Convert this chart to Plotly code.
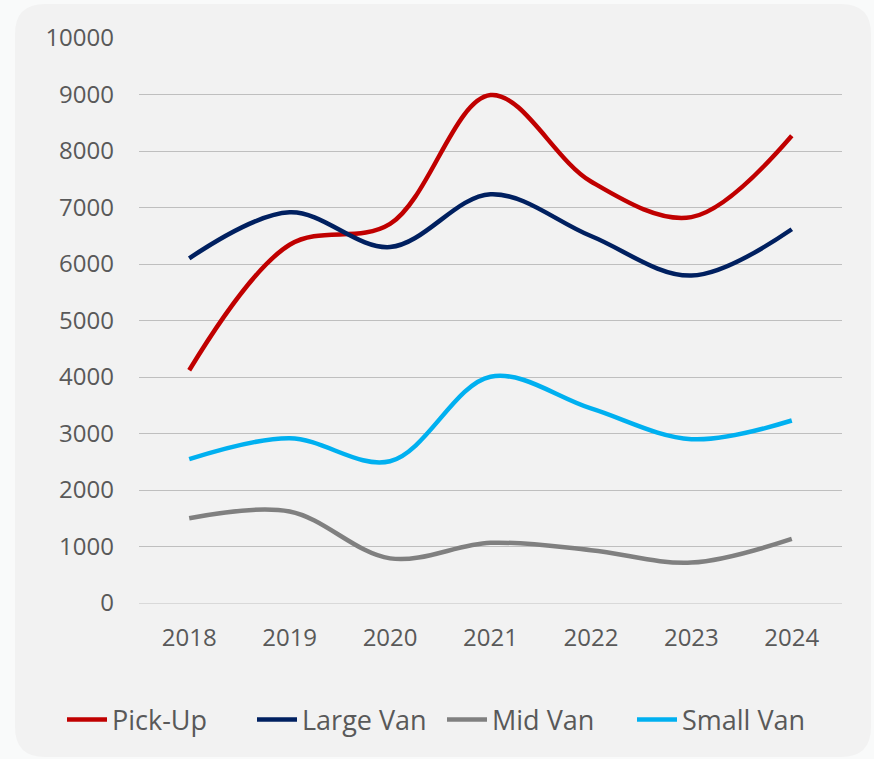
import plotly.graph_objects as go

years = ["2018", "2019", "2020", "2021", "2022", "2023", "2024"]
pick_up = [4120, 6340, 6710, 8990, 7460, 6830, 8270]
large_van = [6100, 6915, 6300, 7235, 6495, 5795, 6615]
mid_van = [1500, 1620, 790, 1065, 935, 715, 1135]
small_van = [2545, 2915, 2510, 4005, 3445, 2900, 3230]

series = [
    ("Pick-Up", pick_up, "#C00000"),
    ("Large Van", large_van, "#002060"),
    ("Mid Van", mid_van, "#808080"),
    ("Small Van", small_van, "#00B0F0"),
]

FONT = "Open Sans"
TXT = "#595959"

fig = go.Figure()
for name, vals, col in series:
    fig.add_trace(go.Scatter(
        x=years, y=vals, name=name, mode="lines",
        line=dict(color=col, width=4.5, shape="spline", smoothing=1.0),
    ))

W, H = 874, 759
pl, pr, pt, pb = 139, 32, 38, 156
pw, ph = W - pl - pr, H - pt - pb


def px(x):
    return (x - pl) / pw


def py(y):
    return (H - pb - y) / ph


fig.update_layout(
    width=W, height=H,
    paper_bgcolor="#f9fafa",
    plot_bgcolor="rgba(0,0,0,0)",
    margin=dict(l=pl, r=pr, t=pt, b=pb, pad=0),
    font=dict(family=FONT, size=24, color=TXT),
    showlegend=True,
    legend=dict(
        orientation="h", xref="paper", yref="paper",
        x=px(62), xanchor="left", y=py(720), yanchor="middle",
        font=dict(family=FONT, size=27, color=TXT),
        entrywidth=135, entrywidthmode="pixels",
        itemwidth=40, tracegroupgap=0, bgcolor="rgba(0,0,0,0)",
    ),
    xaxis=dict(
        type="category", range=[-0.5, 6.5], showgrid=False, zeroline=False,
        showline=False, ticks="", ticklabelstandoff=18,
        tickfont=dict(family=FONT, size=24, color=TXT),
    ),
    yaxis=dict(
        range=[0, 10000], dtick=1000, tickformat="d", showgrid=True,
        gridcolor="#bfbfbf", gridwidth=1.3, zeroline=True,
        zerolinecolor="#d9d9d9", zerolinewidth=1.3,
        showline=False, ticks="", ticklabelstandoff=24,
        tickfont=dict(family=FONT, size=24, color=TXT),
    ),
)

# rounded background panel, pixel coordinates converted to paper coords
x0, x1, y0, y1, r = 15, 871, 4, 757, 30
path = (
    f"M {px(x0 + r)},{py(y0)} L {px(x1 - r)},{py(y0)} "
    f"Q {px(x1)},{py(y0)} {px(x1)},{py(y0 + r)} "
    f"L {px(x1)},{py(y1 - r)} Q {px(x1)},{py(y1)} {px(x1 - r)},{py(y1)} "
    f"L {px(x0 + r)},{py(y1)} Q {px(x0)},{py(y1)} {px(x0)},{py(y1 - r)} "
    f"L {px(x0)},{py(y0 + r)} Q {px(x0)},{py(y0)} {px(x0 + r)},{py(y0)} Z"
)
fig.update_layout(shapes=[dict(
    type="path", xref="paper", yref="paper", layer="below", path=path,
    fillcolor="#f2f2f2", line=dict(width=0),
)])

fig.write_html(
    "out.html",
    config={"displayModeBar": False},
    post_script="document.body.style.margin='0px';document.body.style.background='#f9fafa';document.body.style.overflow='hidden';",
)
